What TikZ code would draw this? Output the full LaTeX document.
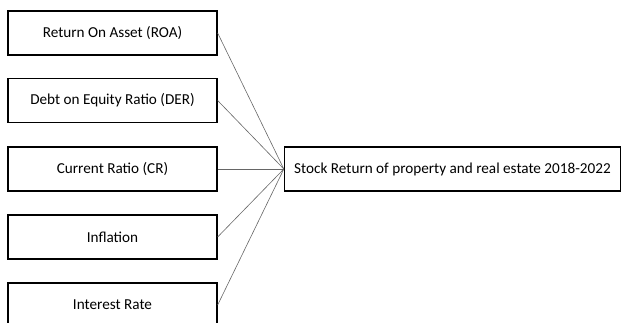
\documentclass[tikz,border=0pt]{standalone}
\usepackage{fontspec}
\setmainfont{Carlito}
\begin{document}
\begin{tikzpicture}[x=1pt,y=-1pt,
  varbox/.style={draw=black,line width=1.3pt,minimum width=209pt,minimum height=44pt,inner sep=0pt,font=\fontsize{15.2}{17}\selectfont},
  outbox/.style={draw=black,line width=1.3pt,minimum width=336pt,minimum height=44pt,inner sep=0pt,font=\fontsize{15.2}{17}\selectfont},
  link/.style={draw=black!60,line width=0.6pt}]
\useasboundingbox (0,0) rectangle (622,322);
\clip (0,0) rectangle (622,322);
\node[varbox] (roa) at (112.5,33) {Return On Asset (ROA)};
\node[varbox] (der) at (112.5,100.5) {Debt on Equity Ratio (DER)};
\node[varbox] (cr) at (112.5,169) {Current Ratio (CR)};
\node[varbox] (inf) at (112.5,237) {Inflation};
\node[varbox] (ir) at (112.5,305) {Interest Rate};
\node[outbox] (sr) at (452.5,169) {Stock Return of property and real estate 2018-2022};
\foreach \n in {roa,der,cr,inf,ir} \draw[link] (\n.east) -- (sr.west);
\end{tikzpicture}
\end{document}
